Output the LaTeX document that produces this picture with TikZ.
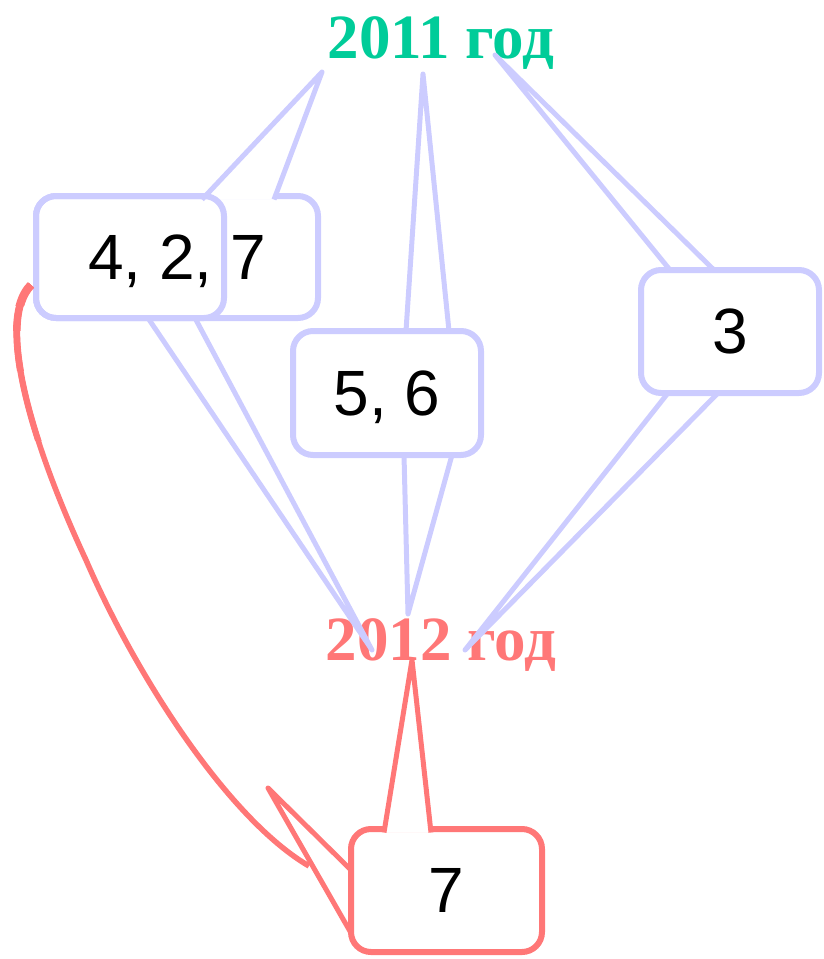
\documentclass[tikz,border=0pt]{standalone}
\usepackage{fontspec}
\setmainfont{Liberation Serif}
\newfontfamily\boxfont{Liberation Sans}
\usetikzlibrary{calc}
\definecolor{lav}{RGB}{204,204,255}
\definecolor{salmon}{RGB}{255,119,119}
\definecolor{mint}{RGB}{0,204,153}

\begin{document}
\begin{tikzpicture}[x=1pt, y=-1pt,
	box/.style={draw=lav, line width=6pt, rounded corners=20pt, fill=white, outer sep=0pt, inner sep=0pt, text depth=0pt, font=\boxfont\fontsize{64}{64}\selectfont},
	redbox/.style={box, draw=salmon},
	year/.style={anchor=base, font=\bfseries\fontsize{63}{63}\selectfont},
	wedge/.style={draw=lav, line width=5pt, line join=round},
	redwedge/.style={wedge, draw=salmon}]
		\useasboundingbox (0,0) rectangle (823,959);

		% Draw the year labels
		\node[year, text=mint] (y11) at (441,58) {2011 год};
		\node[year, text=salmon] (y12) at (441,660) {2012 год};

		% Draw the 4, 2, 7 box and its pointers
		\node[box, minimum width=282pt, minimum height=122pt] (b427) at (177,257) {4, 2, 7};
		\coordinate (t427) at (322,72);
		\fill[white] ($(b427.north west)+(166,3.5)$) -- (t427) -- ($(b427.north west)+(238,3.5)$) -- cycle;
		\draw[wedge] ($(b427.north west)+(166,3.5)$) -- (t427) -- ($(b427.north west)+(238,3.5)$);
		\node[box, fill=none, minimum width=188pt, minimum height=122pt] (b42) at (130,257) {};
		\coordinate (s42) at (372,650);
		\draw[wedge] ($(b42.south west)+(112,0)$) -- (s42) -- ($(b42.south west)+(159,0)$);

		% Draw the 5, 6 box
		\node[box, minimum width=188pt, minimum height=124pt] (b56) at (387,393) {5, 6};
		\coordinate (t56) at (423,74);
		\coordinate (s56) at (408,614);
		\draw[wedge] ($(b56.north west)+(113,0)$) -- (t56) -- ($(b56.north west)+(156,0)$);
		\draw[wedge] ($(b56.south west)+(111,0)$) -- (s56) -- ($(b56.south west)+(159,0)$);

		% Draw the 3 box
		\node[box, minimum width=178pt, minimum height=123pt] (b3) at (730,331.5) {3};
		\coordinate (t3) at (495,55);
		\coordinate (s3) at (465,650);
		\draw[wedge] ($(b3.north west)+(29,0)$) -- (t3) -- ($(b3.north west)+(73,0)$);
		\draw[wedge] ($(b3.south west)+(27,0)$) -- (s3) -- ($(b3.south west)+(77,0)$);

		% Draw the 7 box of 2012
		\node[redbox, minimum width=191pt, minimum height=123pt] (b7) at (446.5,890.5) {7};
		\coordinate (s7) at (412,660);
		\fill[white] ($(b7.north west)+(33,3.5)$) -- (s7) -- ($(b7.north west)+(80,3.5)$) -- cycle;
		\draw[redwedge] ($(b7.north west)+(33,3.5)$) -- (s7) -- ($(b7.north west)+(80,3.5)$);
		\coordinate (p7) at (268,788);
		\draw[redwedge] ($(b7.north west)+(0,41)$) -- (p7) -- ($(b7.north west)+(0,104)$);

		% Draw the curve back to the 4, 2, 7 box, thicker at its start
		\coordinate (c7) at (309,866);
		\coordinate (c427) at ($(b427.south west)+(-5,-33)$);
		\draw[salmon, line width=5.5pt] (c427) .. controls (-4,320) and (30,440) .. (86,560)
			.. controls (138,680) and (230,820) .. (c7);
		\foreach \w/\h in {8.5/305, 7.5/330, 6.8/370, 6.2/440} {
			\begin{scope}
				\clip (0,270) rectangle (120,\h);
				\draw[salmon, line width=\w pt] (c427) .. controls (-4,320) and (30,440) .. (86,560);
			\end{scope}
		}

	\end{tikzpicture}
\end{document}
